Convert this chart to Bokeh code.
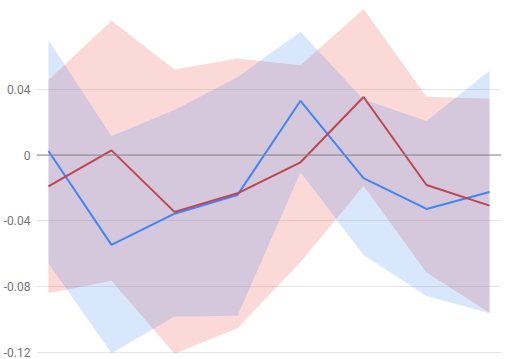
from bokeh.plotting import figure
from bokeh.models import (ColumnDataSource, FixedTicker, CustomJSTickFormatter, Span,
                          Range1d, GlobalInlineStyleSheet)
from bokeh.embed import file_html
from bokeh.resources import INLINE

# ---- data ----
x = [0, 1, 2, 3, 4, 5, 6, 7]
blue_line = [0.0024, -0.0545, -0.0356, -0.0242, 0.0329, -0.0140, -0.0327, -0.0224]
red_line = [-0.0190, 0.0028, -0.0345, -0.0232, -0.0044, 0.0352, -0.0182, -0.0307]
blue_upper = [0.0697, 0.0115, 0.0273, 0.0471, 0.0747, 0.0336, 0.0206, 0.0511]
blue_lower = [-0.0656, -0.1202, -0.0979, -0.0974, -0.0105, -0.0606, -0.0855, -0.0959]
red_upper = [0.0455, 0.0814, 0.0518, 0.0586, 0.0545, 0.0885, 0.0353, 0.0341]
red_lower = [-0.0838, -0.0762, -0.1205, -0.1050, -0.0648, -0.0188, -0.0713, -0.0956]
y_ticks = [0.04, 0, -0.04, -0.08, -0.12]

src = ColumnDataSource(dict(x=x, blue=blue_line, red=red_line,
                            bu=blue_upper, bl=blue_lower, ru=red_upper, rl=red_lower))

p = figure(width=506, height=359, output_backend="svg", toolbar_location=None,
           x_range=Range1d(-0.19, 7.19), y_range=Range1d(-0.1240, 0.0937),
           x_axis_location=None,
           min_border_left=34, min_border_right=5, min_border_top=0, min_border_bottom=0)
p.stylesheets = [GlobalInlineStyleSheet(css="body{margin:0;overflow:hidden;}")]
p.outline_line_color = None
p.background_fill_color = "white"
p.border_fill_color = "white"

p.xgrid.visible = False
p.ygrid.ticker = FixedTicker(ticks=y_ticks)
p.ygrid.grid_line_color = "#e6e6e6"
p.ygrid.grid_line_width = 1

yax = p.yaxis[0]
yax.ticker = FixedTicker(ticks=y_ticks)
yax.formatter = CustomJSTickFormatter(code="return String(parseFloat(tick.toFixed(2)));")
yax.axis_line_color = None
yax.major_tick_line_color = None
yax.minor_tick_line_color = None
yax.major_tick_out = 0
yax.major_tick_in = 0
yax.major_label_standoff = 6
yax.major_label_text_font = "Roboto"
yax.major_label_text_font_size = "12px"
yax.major_label_text_color = "#757575"

p.varea(x="x", y1="rl", y2="ru", source=src, fill_color="#EA4335", fill_alpha=0.2)
p.varea(x="x", y1="bl", y2="bu", source=src, fill_color="#4285F4", fill_alpha=0.2)

p.add_layout(Span(location=0, dimension="width", line_color="#8a8a8a", line_width=1))

p.line(x="x", y="blue", source=src, line_color="#4285F4", line_width=2)
p.line(x="x", y="red", source=src, line_color="#BF4550", line_width=2)

open("out.html", "w").write(file_html(p, INLINE))
